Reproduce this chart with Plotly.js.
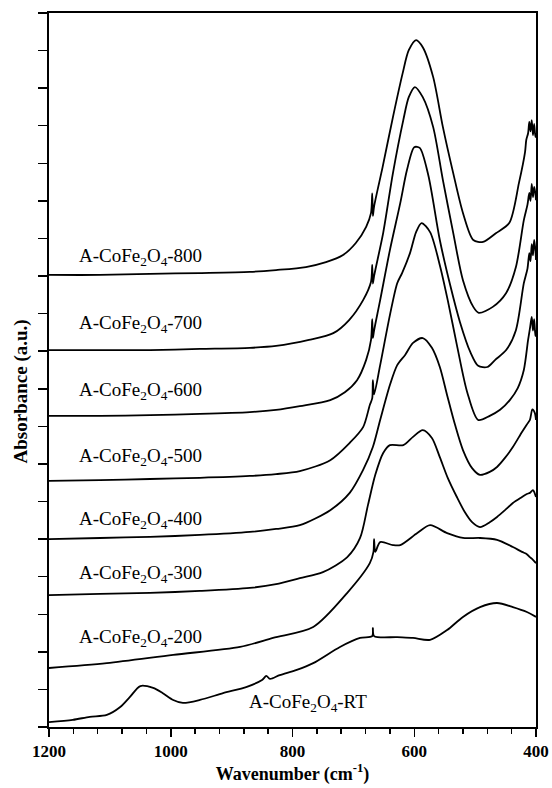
<!DOCTYPE html>
<html>
<head>
<meta charset="utf-8">
<script src="https://cdn.plot.ly/plotly-3.0.1.min.js"></script>
<style>html,body{margin:0;padding:0;background:#fff;}#chart{width:552px;height:788px;}</style>
</head>
<body>
<div id="chart"></div>
<script>
// Wavenumber (cm-1) and stacked absorbance (a.u., offset)
const wn800 = [1200,1116,1034,952,870,827,778,745,717,696,679,671,669,668,666,652,635,619,609,597,586,569,553,536,520,503,487,466,444,428,418,416,413,411,409,407,405,403,401,400];
const ab800 = [12.03,12.03,12.06,12.08,12.11,12.16,12.24,12.37,12.56,12.88,13.31,13.68,14.20,13.60,13.85,14.90,16.23,17.40,18.01,18.28,18.09,17.30,15.97,14.74,13.68,12.96,12.91,13.14,13.41,14.48,15.30,15.62,15.80,16.10,15.85,16.15,15.75,16.05,15.70,15.81];

const wn700 = [1200,1116,1034,952,870,827,773,733,707,684,671,669,668,666,651,635,618,609,599,586,569,553,536,520,503,494,471,449,433,420,414,411,409,407,405,403,401,400];
const ab700 = [10.03,10.03,10.03,10.06,10.09,10.14,10.30,10.48,10.83,11.36,11.85,12.30,11.80,12.00,13.15,14.74,16.15,16.76,17.03,16.76,15.97,14.56,13.15,11.89,11.18,11.02,11.18,11.55,12.24,13.49,13.90,14.21,14.00,14.45,14.10,14.37,14.20,14.02];

const wn600 = [1200,1116,1034,952,870,827,788,738,714,694,679,671,669,668,666,656,640,623,612,600,591,577,558,541,525,508,495,480,467,449,433,420,414,411,409,407,405,403,401,400];
const ab600 = [8.28,8.28,8.30,8.33,8.38,8.44,8.54,8.70,8.91,9.23,9.77,10.30,10.85,10.35,10.55,11.36,12.69,13.94,14.82,15.43,15.41,14.69,12.96,11.76,10.78,9.98,9.61,9.58,9.77,10.03,10.56,11.81,12.20,12.61,12.40,12.85,12.55,12.96,12.70,12.43];

const wn500 = [1200,1116,1034,952,870,827,788,738,706,684,673,669,668,666,656,640,628,620,607,597,588,574,558,545,530,513,495,476,459,443,430,420,413,410,407,405,403,401,400];
const ab500 = [6.55,6.57,6.60,6.63,6.68,6.73,6.81,7.10,7.56,7.98,8.57,8.75,9.23,8.85,9.63,10.96,11.81,12.08,12.61,13.17,13.41,13.17,12.29,11.36,10.17,8.91,8.17,8.28,8.44,8.70,9.02,9.50,10.30,10.60,10.91,10.55,10.85,10.40,10.56];

const wn400 = [1200,1116,1034,952,870,827,788,738,706,684,668,656,640,628,615,602,586,571,558,546,533,520,505,492,476,464,451,438,423,415,410,406,402,400];
const ab400 = [5.00,5.03,5.06,5.11,5.19,5.27,5.37,5.77,6.23,6.84,7.45,8.17,9.10,9.63,9.90,10.22,10.35,10.09,9.58,8.83,8.04,7.37,6.89,6.71,6.79,6.92,7.16,7.45,7.85,8.05,8.17,8.45,8.36,8.17];

const wn300 = [1200,1116,1034,952,870,827,788,750,710,689,676,664,651,640,618,602,586,571,558,545,530,517,505,492,476,464,451,438,423,415,410,405,400];
const ab300 = [3.51,3.54,3.57,3.62,3.70,3.80,3.96,4.12,4.52,5.03,5.91,6.71,7.29,7.50,7.50,7.72,7.90,7.69,7.18,6.63,6.12,5.72,5.45,5.32,5.45,5.59,5.77,5.96,6.12,6.20,6.23,6.30,6.12];

const wn200 = [1200,1105,996,886,832,766,710,673,667,666,664,656,635,623,595,574,546,520,492,464,438,423,415,410,405,400];
const ab200 = [1.57,1.70,1.92,2.13,2.37,2.66,3.57,4.36,4.66,5.00,4.66,4.92,4.84,4.84,5.16,5.37,5.16,5.03,5.03,4.98,4.79,4.66,4.60,4.52,4.45,4.36];

const wnRT = [1200,1161,1133,1105,1083,1067,1050,1029,1013,996,980,952,914,875,850,843,837,821,793,766,722,689,669,668,666,628,602,574,546,520,492,464,438,415,400];
const abRT = [0.13,0.19,0.27,0.32,0.53,0.80,1.09,1.04,0.90,0.72,0.64,0.72,0.90,1.07,1.25,1.36,1.28,1.38,1.52,1.70,2.13,2.37,2.42,2.63,2.42,2.39,2.37,2.32,2.58,2.93,3.19,3.30,3.19,3.06,2.93];

const seriesNames = ['800','700','600','500','400','300','200','RT'];
const seriesX = [wn800, wn700, wn600, wn500, wn400, wn300, wn200, wnRT];
const seriesY = [ab800, ab700, ab600, ab500, ab400, ab300, ab200, abRT];

// label anchor positions (wavenumber, absorbance)
const labelX = [1154,1154,1154,1154,1154,1154,1154,875];
const labelY = [12.51,10.72,8.94,7.18,5.51,4.07,2.37,0.64];

const xTickVals = [1200,1000,800,600,400];
const xTickText = ['1200','1000','800','600','400'];

const serif = 'Liberation Serif, Times New Roman, serif';

const traces = seriesX.map((x, i) => ({
  x: x, y: seriesY[i], type: 'scatter', mode: 'lines',
  line: {color: '#000', width: 1.8, shape: 'spline', smoothing: 0.8}, name: seriesNames[i], hoverinfo: 'skip'
}));

const annotations = seriesNames.map((n, i) => ({
  x: labelX[i], y: labelY[i], xref: 'x', yref: 'y',
  text: 'A-CoFe<sub>2</sub>O<sub>4</sub>-' + n,
  showarrow: false, xanchor: 'left', yanchor: 'middle',
  font: {family: serif, size: 19, color: '#000'}
}));
annotations.push({
  x: -0.0575, y: 0.47, xref: 'paper', yref: 'paper',
  text: '<b>Absorbance (a.u.)</b>', textangle: -90,
  showarrow: false, xanchor: 'center', yanchor: 'middle',
  font: {family: serif, size: 19, color: '#000'}
});

const layout = {
  width: 552, height: 788,
  margin: {l: 49, r: 16, t: 13, b: 61},
  paper_bgcolor: '#fff', plot_bgcolor: '#fff',
  showlegend: false,
  xaxis: {
    range: [1200, 400], autorange: false,
    tickvals: xTickVals, ticktext: xTickText,
    ticks: 'outside', ticklen: 8, tickwidth: 1.5, tickcolor: '#000',
    minor: {dtick: 40, ticks: 'outside', ticklen: 5, tickwidth: 1.5, tickcolor: '#000', showgrid: false},
    showline: true, linecolor: '#000', linewidth: 2, mirror: true,
    showgrid: false, zeroline: false,
    tickfont: {family: serif, size: 17, color: '#000', weight: 'bold'},
    title: {text: '<b>Wavenumber (cm<sup>-1</sup>)</b>', font: {family: serif, size: 18, color: '#000'}, standoff: 6}
  },
  yaxis: {
    range: [0, 19], autorange: false, dtick: 1, tick0: 0,
    showticklabels: false,
    ticks: 'outside', ticklen: 9, tickwidth: 1.5, tickcolor: '#000',
    showline: true, linecolor: '#000', linewidth: 2, mirror: true,
    showgrid: false, zeroline: false
  },
  annotations: annotations
};

Plotly.newPlot('chart', traces, layout, {staticPlot: true, displayModeBar: false});
</script>
</body>
</html>
